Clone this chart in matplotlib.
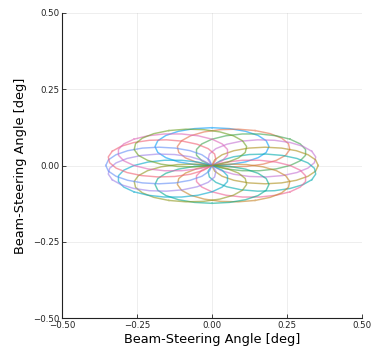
import numpy as np
import matplotlib
matplotlib.use("Agg")
import matplotlib.pyplot as plt

# Beam-steering pattern: 16 faceted ellipses, each one touching the origin.
# ANGLES gives the direction of each ellipse centre from the origin (deg),
# RX / RY are the semi-axes (deg).
ANGLES = [90.0, 67.5, 45.0, 22.5, 0.0, -22.5, -45.0, -67.5,
          -90.0, -112.5, -135.0, -157.5, 180.0, 157.5, 135.0, 112.5]
RX = [0.190, 0.188, 0.184, 0.180, 0.177, 0.180, 0.184, 0.188,
      0.190, 0.188, 0.184, 0.180, 0.177, 0.180, 0.184, 0.188]
RY = [0.062, 0.062, 0.061, 0.061, 0.060, 0.061, 0.061, 0.062,
      0.062, 0.062, 0.061, 0.061, 0.060, 0.061, 0.061, 0.062]
N_PTS = 21  # facets per ellipse, as in the original plot

COLORS = [
    "#009AFA", "#E36F47", "#3EA44E", "#C371D2", "#AC8E18", "#00AAAE",
    "#ED5E93", "#C68225", "#00A98D", "#8E971D", "#00A8CB", "#9B7FE9",
    "#618DF6", "#F16073", "#DD65B7", "#6C9F21",
]

TICKS = [-0.50, -0.25, 0.00, 0.25, 0.50]
TICK_LABELS = ["\u22120.50", "\u22120.25", "0.00", "0.25", "0.50"]
LABEL = "Beam-Steering Angle [deg]"


def main() -> None:
    fig = plt.figure(figsize=(3.77, 3.49), dpi=100)
    ax = fig.add_axes([62 / 377, 1 - 318 / 349, 300 / 377, 305 / 349])

    phi = np.linspace(0, 2 * np.pi, N_PTS)
    for theta_deg, rx, ry, color in zip(ANGLES, RX, RY, COLORS):
        theta = np.deg2rad(theta_deg)
        cx, cy = rx * np.cos(theta), ry * np.sin(theta)
        x = cx + rx * np.cos(phi + theta)
        y = cy + ry * np.sin(phi + theta)
        ax.plot(x, y, color=color, alpha=0.6, linewidth=1.05)

    ax.set_xlim(-0.5, 0.5)
    ax.set_ylim(-0.5, 0.5)
    ax.set_xticks(TICKS, TICK_LABELS)
    ax.set_yticks(TICKS, TICK_LABELS)
    ax.tick_params(direction="in", length=3, width=0.6, labelsize=6.2,
                   colors="#222222", pad=2)
    ax.grid(color="#000000", alpha=0.08, linewidth=0.6)
    for side in ("top", "right"):
        ax.spines[side].set_visible(False)
    for side in ("left", "bottom"):
        ax.spines[side].set_linewidth(0.8)
        ax.spines[side].set_color("#222222")
    ax.set_xlabel(LABEL, fontsize=9.3, labelpad=2)
    ax.set_ylabel(LABEL, fontsize=9.3, labelpad=4)

    fig.savefig("out.png", dpi=100)
    plt.close(fig)


if __name__ == "__main__":
    main()
